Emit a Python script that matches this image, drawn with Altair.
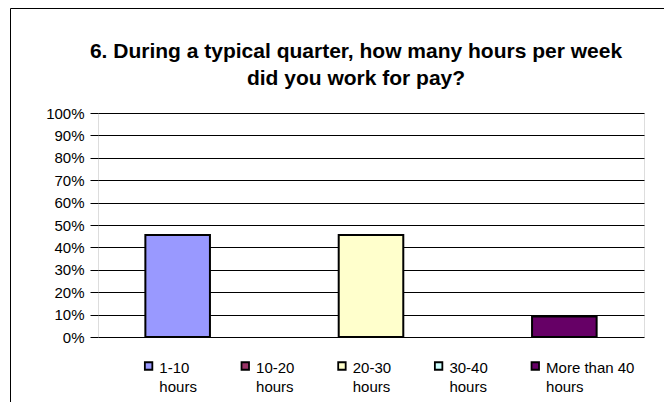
import altair as alt
import pandas as pd

# ---- data ----
series = ["1-10 hours", "10-20 hours", "20-30 hours", "30-40 hours", "More than 40 hours"]
percent = [45.5, 0.0, 45.5, 0.0, 9.1]
colors = ["#9999FF", "#993366", "#FFFFCC", "#CCFFFF", "#660066"]
y_ticks = [0, 10, 20, 30, 40, 50, 60, 70, 80, 90, 100]
title_lines = ["6. During a typical quarter, how many hours per week", "did you work for pay?"]

df = pd.DataFrame({"series": series, "percent": percent})

FONT = "Liberation Sans"

x_scale = alt.Scale(domain=series, paddingInner=0.332, paddingOuter=0.49)
color_scale = alt.Scale(domain=series, range=colors)

# outer chart-area frame (decoration)
frame = alt.Chart(alt.Data(values=[{}])).mark_rect(
    fill=None, stroke="black", strokeWidth=1
).encode(
    x=alt.value(-87.5), x2=alt.value(700), y=alt.value(-104.5), y2=alt.value(420)
)

# chart title (two lines)
title = alt.Chart(alt.Data(values=[{}])).mark_text(
    text=title_lines, font=FONT, fontSize=21, fontWeight="bold", color="black",
    align="center", baseline="alphabetic", lineHeight=27
).encode(
    x=alt.value(258), y=alt.value(-55)
)

bars = alt.Chart(df).transform_filter("datum.percent > 0").mark_bar(
    stroke="black", strokeWidth=2
).encode(
    x=alt.X("series:N", scale=x_scale, axis=None, sort=series),
    y=alt.Y(
        "percent:Q",
        scale=alt.Scale(domain=[0, 100], nice=False),
        axis=alt.Axis(
            values=y_ticks,
            labelExpr="datum.value + '%'",
            title=None,
            grid=True,
            gridColor="black",
            gridWidth=1,
            domain=False,
            tickColor="black",
            tickSize=8,
            labelPadding=6,
            labelFont=FONT,
            labelFontSize=15,
            labelColor="black",
        ),
    ),
    fill=alt.Fill("series:N", scale=color_scale, legend=None),
)

legend_sq = alt.Chart(df).mark_square(
    size=56, filled=True, stroke="black", strokeWidth=1.8, opacity=1
).encode(
    x=alt.X("series:N", scale=x_scale, bandPosition=0.05, axis=None, sort=series),
    y=alt.value(253),
    fill=alt.Fill("series:N", scale=color_scale, legend=None),
)

legend_txt = alt.Chart(df).transform_calculate(
    lines="[substring(datum.series, 0, length(datum.series) - 6), 'hours']"
).mark_text(
    align="left", baseline="alphabetic", dx=14, font=FONT, fontSize=15,
    color="black", lineHeight=19
).encode(
    x=alt.X("series:N", scale=x_scale, bandPosition=0, axis=None, sort=series),
    y=alt.value(260),
    text="lines:N",
)

chart = alt.layer(frame, title, bars, legend_sq, legend_txt).properties(
    width=546,
    height=224,
    padding={"left": 90, "top": 105, "right": 20, "bottom": 65},
    autosize=alt.AutoSizeParams(type="none"),
).configure_view(
    stroke="black", strokeWidth=1
).configure(background="white")

chart.save("out.html", embed_options={"renderer": "svg", "actions": False})
